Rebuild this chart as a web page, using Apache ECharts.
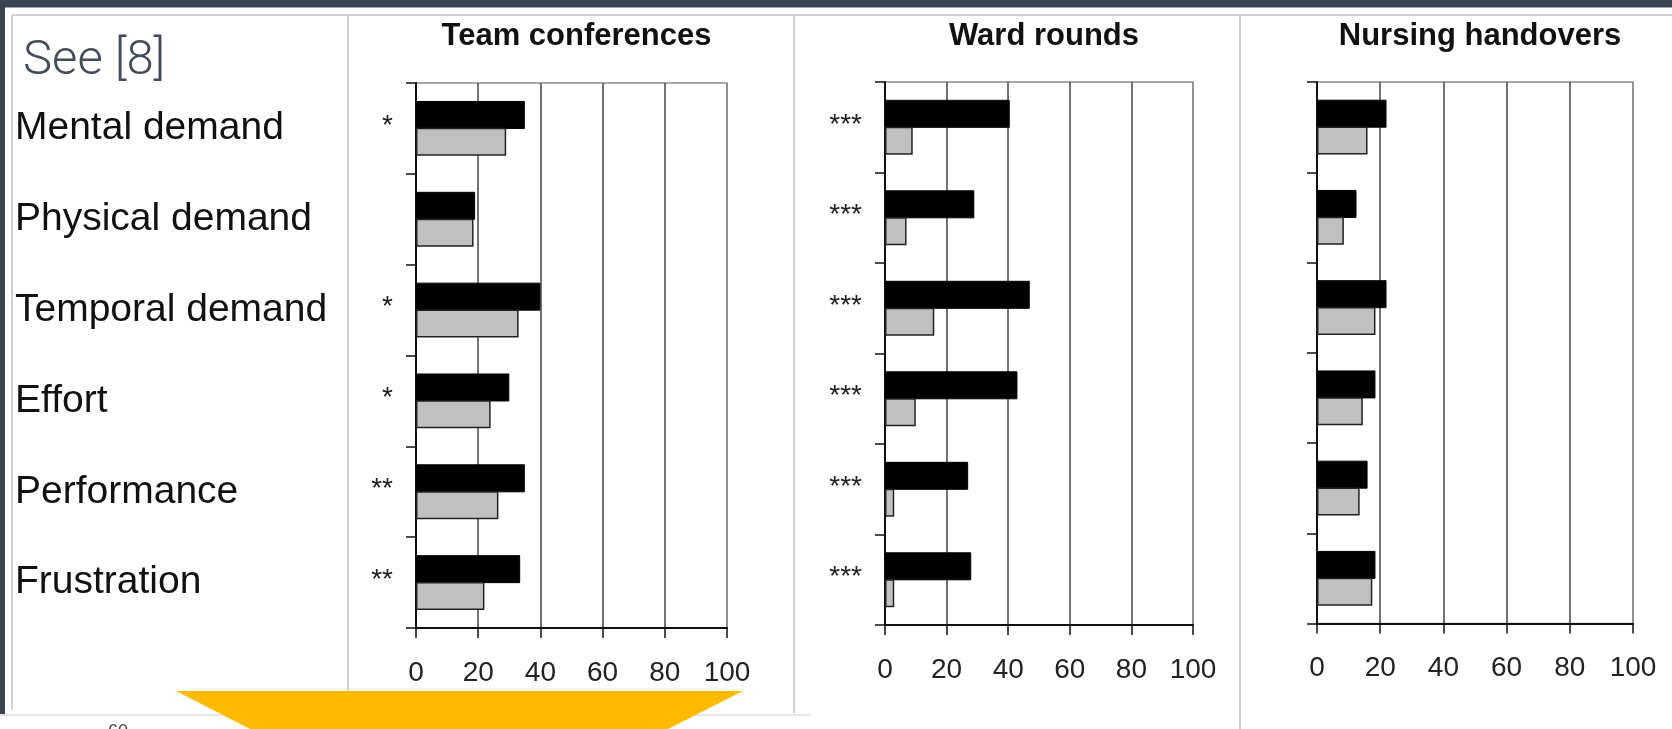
<!DOCTYPE html>
<html>
<head>
<meta charset="utf-8">
<script src="https://cdn.jsdelivr.net/npm/echarts@6/dist/echarts.min.js"></script>
<style>
  html, body { margin: 0; padding: 0; background: #ffffff; }
  #main { width: 1672px; height: 729px; }
</style>
</head>
<body>
<div id="main"></div>
<script>
// NASA-TLX subscales (rows of every panel)
const categories = ['Mental demand', 'Physical demand', 'Temporal demand', 'Effort', 'Performance', 'Frustration'];
const xTicks = [0, 20, 40, 60, 80, 100];
const panelTitles = ['Team conferences', 'Ward rounds', 'Nursing handovers'];

// Team conferences
const teamDark  = [35, 19, 40, 30, 35, 33.5];
const teamLight = [29, 18.5, 33, 24, 26.5, 22];
const teamStars = ['*', '', '*', '*', '**', '**'];

// Ward rounds
const wardDark  = [40.5, 29, 47, 43, 27, 28];
const wardLight = [9, 7, 16, 10, 3, 3];
const wardStars = ['***', '***', '***', '***', '***', '***'];

// Nursing handovers
const nursingDark  = [22, 12.5, 22, 18.5, 16, 18.5];
const nursingLight = [16, 8.5, 18.5, 14.5, 13.5, 17.5];
const nursingStars = ['', '', '', '', '', ''];

const FONT = "'Liberation Sans', Arial, sans-serif";

const panels = [
  { title: panelTitles[0], dark: teamDark, light: teamLight, stars: teamStars,
    box: { left: 416, top: 83, width: 311, height: 545 } },
  { title: panelTitles[1], dark: wardDark, light: wardLight, stars: wardStars,
    box: { left: 885, top: 82, width: 308, height: 543 } },
  { title: panelTitles[2], dark: nursingDark, light: nursingLight, stars: nursingStars,
    box: { left: 1317, top: 82, width: 316, height: 541.5 } }
];

const grids = [], xAxes = [], yAxes = [], series = [], titles = [];

panels.forEach((p, i) => {
  grids.push({
    left: p.box.left, top: p.box.top, width: p.box.width, height: p.box.height,
    show: true, borderColor: '#8a8a8a', borderWidth: 1.5, backgroundColor: 'transparent'
  });

  titles.push({
    text: p.title,
    left: p.box.left + p.box.width / 2,
    top: 16,
    textAlign: 'center',
    textStyle: { fontFamily: FONT, fontSize: 31, fontWeight: 'bold', color: '#111' }
  });

  xAxes.push({
    type: 'value', gridIndex: i,
    min: xTicks[0], max: xTicks[xTicks.length - 1], interval: xTicks[1] - xTicks[0],
    axisLine: { show: true, lineStyle: { color: '#111', width: 2 } },
    axisTick: { show: true, inside: false, length: 10, lineStyle: { color: '#111', width: 1.5 } },
    axisLabel: { fontFamily: FONT, fontSize: 28, color: '#222', margin: 31 },
    splitLine: { show: true, lineStyle: { color: ['#444', '#444', '#444', '#444', '#444', '#8a8a8a'], width: 1.5 } }
  });

  yAxes.push({
    type: 'category', gridIndex: i, data: categories, inverse: true,
    axisLine: { show: true, lineStyle: { color: '#111', width: 2 } },
    axisTick: { show: true, inside: false, length: 10, lineStyle: { color: '#111', width: 1.5 } },
    axisLabel: i === 0
      ? { show: true, align: 'left', margin: p.box.left - 15, fontFamily: FONT, fontSize: 39, color: '#111' }
      : { show: false },
    splitLine: { show: false }
  });

  const stars = p.stars;
  series.push({
    type: 'bar', xAxisIndex: i, yAxisIndex: i,
    data: p.dark, barWidth: 28, barGap: '-4%',
    itemStyle: { color: '#000000', borderColor: '#000000', borderWidth: 1 },
    label: {
      show: true, position: 'left', distance: 23, offset: [0, 11],
      fontFamily: FONT, fontSize: 28, color: '#222',
      formatter: (prm) => stars[prm.dataIndex]
    },
    silent: true, animation: false
  });
  series.push({
    type: 'bar', xAxisIndex: i, yAxisIndex: i,
    data: p.light, barWidth: 28, barGap: '-4%',
    itemStyle: { color: '#c0c0c0', borderColor: '#222222', borderWidth: 1.5 },
    silent: true, animation: false
  });
});

// Slide frame, table rules, reference note and the amber arrow
const rule = '#cfcfcf';
const graphic = [
  { type: 'rect', shape: { x: 0, y: 0, width: 1672, height: 7.5 }, style: { fill: '#3b4250' }, z: 0 },
  { type: 'rect', shape: { x: 0, y: 0, width: 5, height: 714 }, style: { fill: '#3b4250' }, z: 0 },
  { type: 'line', shape: { x1: 12, y1: 15, x2: 1672, y2: 15 }, style: { stroke: rule, lineWidth: 2 }, z: 0 },
  { type: 'line', shape: { x1: 12, y1: 15, x2: 12, y2: 710 }, style: { stroke: rule, lineWidth: 2 }, z: 0 },
  { type: 'line', shape: { x1: 348, y1: 15, x2: 348, y2: 691 }, style: { stroke: rule, lineWidth: 2 }, z: 0 },
  { type: 'line', shape: { x1: 794, y1: 15, x2: 794, y2: 713 }, style: { stroke: rule, lineWidth: 2 }, z: 0 },
  { type: 'line', shape: { x1: 1240, y1: 15, x2: 1240, y2: 729 }, style: { stroke: rule, lineWidth: 2 }, z: 0 },
  { type: 'line', shape: { x1: 0, y1: 715, x2: 810, y2: 715 }, style: { stroke: '#dddddd', lineWidth: 1.5 }, z: 0 },
  { type: 'text', x: 23, y: 62,
    style: { text: 'See [8]', fill: '#434a58', font: "300 49px Roboto, 'Liberation Sans', sans-serif", verticalAlign: 'middle' }, z: 5 },
  { type: 'polygon', shape: { points: [[176, 691], [743, 691], [668, 729], [250, 729]] },
    style: { fill: '#ffbb00' }, z: 10 },
  { type: 'text', x: 108, y: 723,
    style: { text: '60 -', fill: '#444', font: "18px 'Liberation Sans', sans-serif", verticalAlign: 'top' }, z: 5 }
];

const chart = echarts.init(document.getElementById('main'), null, { renderer: 'canvas' });
chart.setOption({
  animation: false,
  backgroundColor: '#ffffff',
  title: titles,
  grid: grids,
  xAxis: xAxes,
  yAxis: yAxes,
  series: series,
  graphic: graphic
});
</script>
</body>
</html>
